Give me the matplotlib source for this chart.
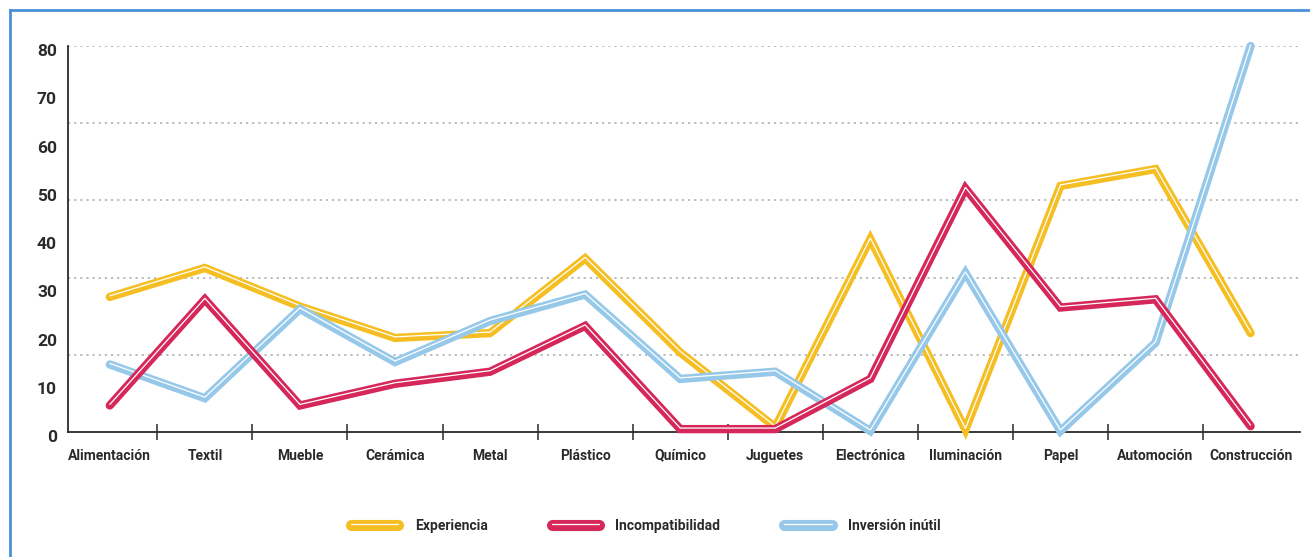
import numpy as np
import matplotlib
matplotlib.use("Agg")
import matplotlib.pyplot as plt
import matplotlib.patheffects as pe
import matplotlib.transforms as mtransforms
from matplotlib.lines import Line2D

# Datos por sector
sectores = ['Alimentación', 'Textil', 'Mueble', 'Cerámica', 'Metal', 'Plástico', 'Químico',
            'Juguetes', 'Electrónica', 'Iluminación', 'Papel', 'Automoción', 'Construcción']
experiencia = [28, 34, 26, 19.5, 20.5, 36, 16.5, 1, 40, 0.5, 51, 54.5, 20.5]
incompatibilidad = [5.5, 27.5, 5.5, 10, 12.5, 22, 0.6, 0.6, 11, 50.5, 25.8, 27.5, 1.2]
inversion = [14, 7, 25.5, 14.5, 23, 28.5, 11, 12.5, 0.2, 33, 0.2, 18.5, 80]

y_ticks = [0, 10, 20, 30, 40, 50, 60, 70, 80]
grid_y = [16, 32, 48, 64, 80]

colores = {'Experiencia': '#F5BE22', 'Incompatibilidad': '#D6275B', 'Inversión inútil': '#96C8EA'}

plt.rcParams['font.family'] = ['Roboto', 'DejaVu Sans']

fig = plt.figure(figsize=(13.1, 5.57), dpi=100)
ax = fig.add_axes([0.0519, 0.2244, 0.9405, 0.693])

x = np.arange(len(sectores))

# lineas de cuadricula punteadas
for g in grid_y:
    ax.axhline(g, color='#b5b5b5', linestyle=(0, (1.2, 2.2)), linewidth=1.3, zorder=0)

# linea gruesa con un filo blanco fino encima
brillo = [pe.Normal(), pe.Stroke(linewidth=0.9, foreground='white', offset=(0, 0.75))]
series = [('Experiencia', experiencia), ('Inversión inútil', inversion), ('Incompatibilidad', incompatibilidad)]
lineas = {}
for i, (nombre, vals) in enumerate(series):
    l, = ax.plot(x, vals, color=colores[nombre], linewidth=6, solid_capstyle='round',
                 solid_joinstyle='miter', label=nombre, zorder=3 + i, clip_on=False,
                 path_effects=brillo)
    lineas[nombre] = l

ax.set_xlim(-0.44, 12.52)
ax.set_ylim(0, 80)

ax.set_yticks(y_ticks)
ax.set_yticklabels([str(v) for v in y_ticks], fontsize=12.5, fontweight='bold', color='#2a2a2a')
ax.tick_params(axis='y', length=0, pad=8)
# etiquetas del eje y un poco por debajo de su valor
bajar = mtransforms.ScaledTranslation(0, -3 / 72, fig.dpi_scale_trans)
for t in ax.get_yticklabels():
    t.set_transform(t.get_transform() + bajar)

ax.set_xticks(x)
ax.set_xticklabels(sectores, fontsize=10, fontweight='bold', color='#2a2a2a')
ax.set_xticks(x[:-1] + 0.5, minor=True)
ax.tick_params(axis='x', which='major', length=0, pad=12)
ax.tick_params(axis='x', which='minor', direction='inout', length=12, width=1.2, color='#3a3a3a')

for s in ['top', 'right']:
    ax.spines[s].set_visible(False)
for s in ['left', 'bottom']:
    ax.spines[s].set_color('#2a2a2a')
    ax.spines[s].set_linewidth(1.3)

# leyenda inferior
orden = ['Experiencia', 'Incompatibilidad', 'Inversión inútil']
leg = fig.legend([lineas[n] for n in orden], orden, loc='center', bbox_to_anchor=(0.493, 0.056),
                 ncol=3, frameon=False, handlelength=3.4, columnspacing=4.6, handletextpad=1.2,
                 prop={'size': 10, 'weight': 'bold'})
for t in leg.get_texts():
    t.set_color('#2a2a2a')
for h in leg.legend_handles:
    h.set_linewidth(8)

# borde azul del recuadro
fig.add_artist(Line2D([0.0076, 0.0076], [0, 0.982], color='#4A90D9', linewidth=2, transform=fig.transFigure))
fig.add_artist(Line2D([0.0076, 1.0], [0.982, 0.982], color='#4A90D9', linewidth=2, transform=fig.transFigure))

fig.savefig('out.png', dpi=100, facecolor='white')
